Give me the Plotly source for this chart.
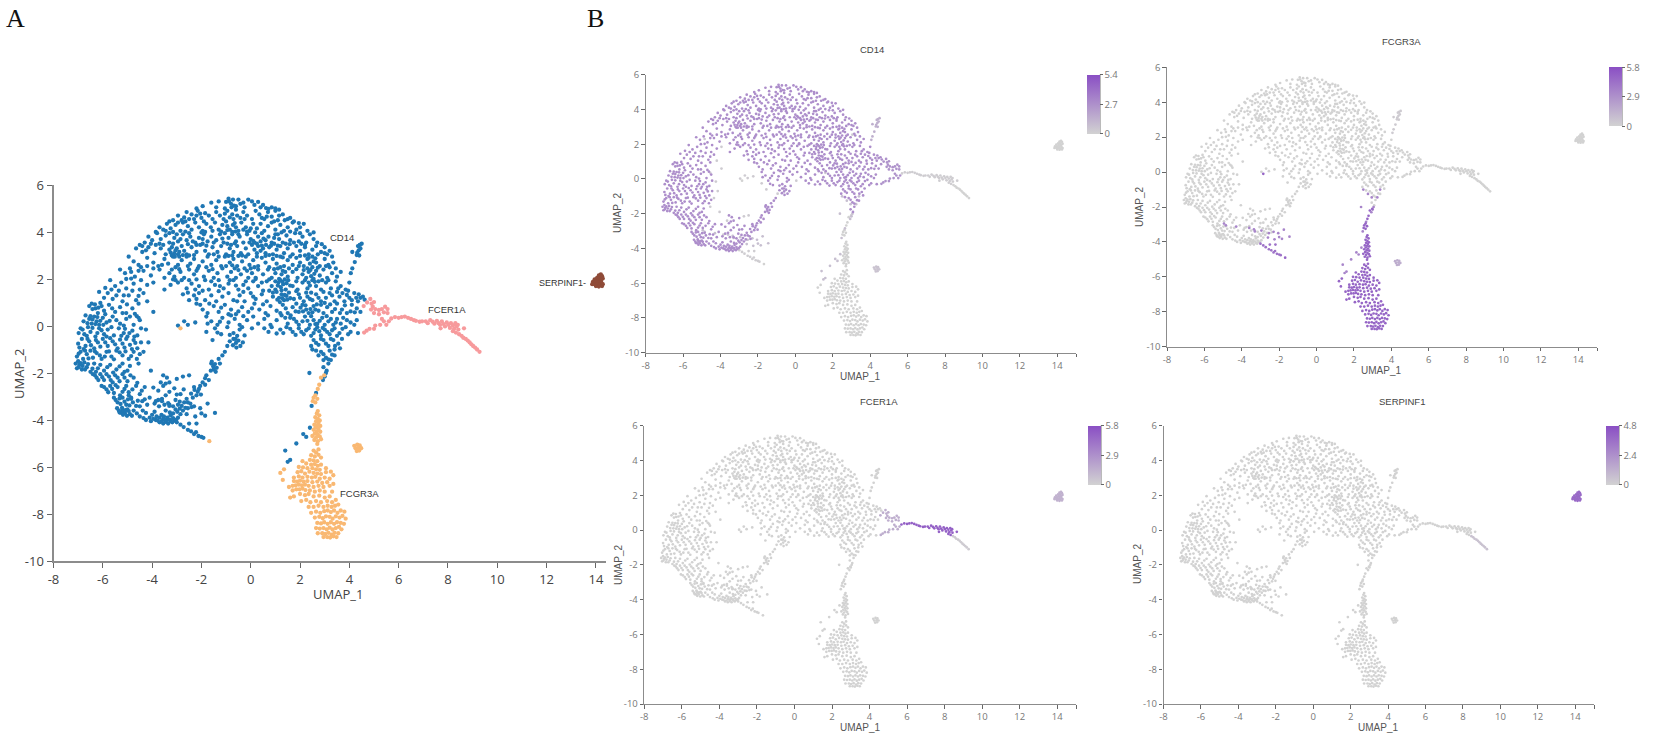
import plotly.graph_objects as go

W = 1654
H = 753

# tick values of the UMAP axes
x_ticks = [-8, -6, -4, -2, 0, 2, 4, 6, 8, 10, 12, 14]
y_ticks = [-10, -8, -6, -4, -2, 0, 2, 4, 6]

cluster_names = ["CD14", "FCGR3A", "FCER1A", "SERPINF1"]
gene_names = ["CD14", "FCGR3A", "FCER1A", "SERPINF1"]
gene_max = [5.4, 5.8, 5.8, 4.8]
gene_mid = [2.7, 2.9, 2.9, 2.4]

# UMAP coordinates, cluster by cluster
# classical monocytes, main cloud, band by band from the top
mono_xy = [
(-1.95,5.1),(-1.6,5.25),(-1.4,5.05),(-1.3,5.3),(-1.05,5.0),(-0.9,5.42),(-0.8,5.2),(-0.72,5.38),(-0.6,5.1),(-0.5,5.38),(-0.42,5.2),(-0.1,5.38),(0.05,5.3),(0.15,5.15),(0.5,5.15),(0.62,5.02),(0.85,5.05),(1.0,5.0),(-2.2,5.0),(-0.25,5.05),
(-3.15,4.5),(-2.95,4.7),(-2.7,4.62),(-2.6,4.85),(-2.4,4.75),(-2.15,4.9),(-2.0,4.6),(-1.85,4.8),(-1.55,4.55),(-1.4,4.85),(-1.25,4.7),(-1.1,4.55),(-0.95,4.9),(-0.75,4.75),(-0.6,4.95),(-0.42,4.6),(-0.3,4.85),(-0.15,4.7),(0.05,4.55),(0.2,4.9),(0.35,4.75),(0.55,4.55),(0.7,4.85),(0.85,4.65),(1.0,4.9),(1.15,4.7),(1.3,4.75),(1.5,4.55),(1.6,4.6),(-3.3,4.45),(-2.3,4.55),(-1.7,4.7),
(-3.85,4.0),(-3.7,4.2),(-3.55,4.1),(-3.4,4.35),(-3.25,4.15),(-3.05,4.3),(-2.85,4.05),(-2.75,4.4),(-2.55,4.25),(-2.4,4.1),(-2.25,4.4),(-2.1,4.2),(-1.95,4.05),(-1.8,4.35),(-1.62,4.2),(-1.45,4.4),(-1.3,4.1),(-1.15,4.3),(-1.0,4.45),(-0.85,4.1),(-0.72,4.3),(-0.6,4.2),(-0.5,4.05),(-0.38,4.4),(-0.2,4.2),(-0.05,4.05),(0.1,4.35),(0.25,4.15),(0.4,4.35),(0.55,4.05),(0.7,4.25),(0.85,4.4),(1.0,4.1),(1.2,4.3),(1.35,4.05),(1.5,4.2),(1.7,4.4),(1.85,4.1),(2.0,4.2),(2.15,4.35),(2.3,4.05),(-0.95,4.25),(-0.65,4.38),(-1.55,4.05),(-2.95,4.4),(1.95,4.38),
(-4.3,3.55),(-4.15,3.8),(-4.0,3.65),(-3.8,3.95),(-3.65,3.7),(-3.45,3.85),(-3.3,3.55),(-3.1,3.75),(-2.95,3.6),(-2.75,3.9),(-2.6,3.65),(-2.45,3.8),(-2.25,3.55),(-2.1,3.75),(-1.9,3.9),(-1.75,3.6),(-1.6,3.8),(-1.4,3.65),(-1.25,3.9),(-1.1,3.55),(-0.9,3.75),(-0.75,3.9),(-0.6,3.6),(-0.45,3.8),(-0.3,3.55),(-0.15,3.9),(0.0,3.7),(0.15,3.55),(0.3,3.8),(0.45,3.95),(0.6,3.65),(0.72,3.8),(0.85,3.55),(1.0,3.9),(1.15,3.7),(1.3,3.55),(1.45,3.85),(1.6,3.65),(1.8,3.95),(1.95,3.6),(2.1,3.8),(2.25,3.55),(2.4,3.9),(2.55,3.7),(2.7,3.55),(0.52,3.72),(0.4,3.6),(-1.95,3.7),(-2.85,3.7),(-1.15,3.72),
(-4.65,3.3),(-4.5,3.45),(-4.4,3.15),(-4.15,3.35),(-3.9,3.1),(-3.65,3.3),(-3.45,3.05),(-3.3,3.25),(-3.2,3.35),(-3.1,3.1),(-3.0,3.3),(-2.9,3.15),(-2.8,3.4),(-2.7,3.2),(-2.6,3.05),(-2.4,3.35),(-2.2,3.15),(-2.05,3.45),(-1.85,3.2),(-1.7,3.05),(-1.55,3.35),(-1.35,3.15),(-1.2,3.4),(-1.0,3.05),(-0.85,3.3),(-0.7,3.15),(-0.55,3.4),(-0.4,3.1),(-0.2,3.3),(-0.1,3.05),(0.05,3.45),(0.15,3.25),(0.3,3.4),(0.4,3.2),(0.5,3.3),(0.6,3.1),(0.75,3.35),(0.9,3.05),(1.05,3.25),(1.2,3.4),(1.35,3.1),(1.5,3.3),(1.7,3.05),(1.85,3.4),(2.0,3.2),(2.2,3.35),(2.35,3.05),(2.5,3.25),(2.65,3.4),(2.85,3.15),(3.0,3.35),(3.1,3.05),(-3.05,3.22),(-2.95,3.05),(-3.25,3.12),(0.25,3.1),(0.45,3.42),
(-4.95,2.95),(-4.75,2.75),(-4.55,2.6),(-4.2,2.9),(-3.95,2.7),(-3.75,2.55),(-3.5,2.85),(-3.35,2.65),(-3.15,2.95),(-2.95,2.6),(-2.8,2.8),(-2.6,2.95),(-2.45,2.65),(-2.3,2.85),(-2.1,2.55),(-1.95,2.75),(-1.75,2.95),(-1.6,2.6),(-1.4,2.8),(-1.2,2.55),(-1.05,2.95),(-0.85,2.7),(-0.7,2.85),(-0.55,2.55),(-0.35,2.75),(-0.2,2.95),(-0.05,2.6),(0.1,2.8),(0.3,2.55),(0.45,2.9),(0.6,2.7),(0.75,2.5),(0.9,2.85),(1.05,2.65),(1.2,2.95),(1.35,2.55),(1.5,2.8),(1.7,2.6),(1.85,2.9),(2.0,2.7),(2.15,2.55),(2.3,2.85),(2.4,2.65),(2.5,2.95),(2.65,2.7),(2.8,2.55),(3.0,2.85),(3.15,2.6),(3.35,2.7),(-3.05,2.5),(0.25,2.95),
(-5.3,2.4),(-5.1,2.25),(-4.9,2.45),(-4.7,2.1),(-4.35,2.35),(-4.05,2.15),(-3.7,2.4),(-3.5,2.05),(-3.3,2.25),(-3.1,2.1),(-2.85,2.3),(-2.7,2.05),(-2.5,2.4),(-2.3,2.2),(-2.15,2.45),(-1.9,2.1),(-1.7,2.35),(-1.5,2.05),(-1.35,2.25),(-1.15,2.45),(-0.95,2.1),(-0.8,2.3),(-0.6,2.05),(-0.4,2.2),(-0.25,2.45),(-0.1,2.05),(0.05,2.25),(0.2,2.05),(0.3,2.4),(0.5,2.2),(0.7,2.4),(0.85,2.05),(1.0,2.25),(1.15,2.0),(1.3,2.35),(1.5,2.1),(1.7,2.3),(1.9,2.05),(2.1,2.2),(2.25,2.05),(2.35,2.3),(2.45,2.12),(2.55,2.0),(2.65,2.35),(2.8,2.15),(2.95,2.4),(3.1,2.05),(3.3,2.25),(3.5,2.1),(3.65,2.3),(-0.5,2.38),
(-5.7,1.95),(-5.5,1.7),(-5.25,1.85),(-5.05,1.6),(-4.75,1.8),(-4.5,1.55),(-3.5,1.55),(-3.25,1.75),(-3.05,1.95),(-2.8,1.95),(-2.6,1.6),(-2.4,1.8),(-2.25,1.55),(-2.1,1.7),(-1.85,1.95),(-1.7,1.55),(-1.45,1.75),(-1.3,1.95),(-1.1,1.6),(-0.9,1.8),(-0.7,1.95),(-0.5,1.55),(-0.3,1.75),(-0.1,1.6),(0.1,1.9),(0.3,1.7),(0.5,1.5),(0.65,1.9),(0.85,1.7),(1.0,1.55),(1.12,1.85),(1.22,1.65),(1.32,1.78),(1.42,1.55),(1.52,1.95),(1.7,1.7),(1.9,1.55),(2.1,1.85),(2.3,1.6),(2.5,1.95),(2.65,1.7),(2.85,1.55),(3.05,1.85),(3.25,1.6),(3.45,1.9),(3.65,1.7),(3.85,1.55),(4.0,1.85),(1.25,1.52),(2.75,1.9),
(-6.15,1.45),(-5.95,1.2),(-5.8,1.4),(-5.6,1.15),(-5.45,1.3),(-5.2,1.05),(-4.95,1.3),(-4.65,1.1),(-4.35,1.4),(-2.75,1.35),(-2.5,1.1),(-2.3,1.3),(-2.1,1.4),(-1.85,1.1),(-1.6,1.3),(-1.4,1.05),(-1.15,1.25),(-0.9,1.4),(-0.7,1.1),(-0.45,1.3),(-0.25,1.05),(0.0,1.4),(0.2,1.15),(0.45,1.35),(0.65,1.05),(0.9,1.25),(1.05,1.45),(1.15,1.2),(1.25,1.35),(1.35,1.1),(1.45,1.28),(1.55,1.42),(1.75,1.15),(1.95,1.35),(2.15,1.05),(2.3,1.25),(2.5,1.1),(2.65,1.35),(2.85,1.05),(3.05,1.2),(3.2,1.4),(3.4,1.05),(3.6,1.25),(3.8,1.05),(4.0,1.2),(4.2,1.4),(4.35,1.05),(4.55,1.25),(4.45,1.2),(2.45,1.42),
(-6.45,0.95),(-6.3,0.75),(-6.2,0.55),(-6.05,0.85),(-5.95,0.65),(-5.75,0.9),(-5.5,0.6),(-5.3,0.8),(-5.05,0.55),(-4.8,0.75),(-4.55,0.95),(-2.2,0.95),(-1.95,0.7),(-1.75,0.55),(-1.5,0.85),(-1.3,0.6),(-1.05,0.9),(-0.8,0.7),(-0.6,0.5),(-0.35,0.8),(-0.1,0.6),(0.15,0.95),(0.35,0.7),(0.6,0.55),(0.8,0.85),(1.05,0.65),(1.3,0.9),(1.5,0.55),(1.7,0.8),(1.95,0.6),(2.1,0.9),(2.25,0.7),(2.35,0.55),(2.55,0.85),(2.75,0.65),(2.95,0.55),(3.1,0.8),(3.3,0.6),(3.5,0.95),(3.7,0.7),(3.9,0.55),(4.1,0.9),(4.3,0.75),(4.45,0.6),(2.85,0.9),
(-6.7,0.45),(-6.55,0.3),(-6.45,0.1),(-6.35,0.4),(-6.25,0.2),(-6.15,0.05),(-6.0,0.35),(-5.85,0.15),(-5.6,0.4),(-5.3,0.1),(-5.05,0.3),(-4.75,0.05),(-4.5,0.25),(-1.8,0.4),(-1.6,0.2),(-1.35,0.05),(-1.15,0.35),(-0.9,0.15),(-0.65,0.3),(-0.45,0.05),(-0.15,0.25),(0.1,0.4),(0.3,0.1),(0.55,0.3),(0.8,0.05),(1.05,0.25),(1.25,0.45),(1.5,0.1),(1.75,0.3),(1.95,0.05),(2.1,0.2),(2.2,0.4),(2.4,0.05),(2.55,0.25),(2.7,0.1),(2.9,0.35),(3.0,0.05),(3.15,0.2),(3.35,0.05),(3.5,0.3),(3.65,0.1),(3.9,0.25),(4.2,0.05),
(-6.9,-0.1),(-6.75,-0.35),(-6.6,-0.05),(-6.5,-0.25),(-6.3,-0.45),(-6.15,-0.1),(-5.95,-0.35),(-5.8,-0.15),(-5.55,-0.4),(-5.35,-0.1),(-5.15,-0.3),(-5.0,-0.45),(-4.8,-0.2),(-4.6,-0.4),(-4.45,-0.1),(-1.45,-0.1),(-1.2,-0.35),(-0.95,-0.05),(-0.7,-0.3),(-0.45,-0.15),(-0.25,-0.4),(0.55,-0.1),(0.85,-0.05),(1.2,-0.15),(1.45,-0.05),(1.7,-0.25),(1.95,-0.1),(2.15,-0.35),(2.35,-0.1),(2.55,-0.3),(2.7,-0.05),(2.85,-0.4),(3.0,-0.15),(3.2,-0.35),(3.4,-0.1),(3.6,-0.3),(3.85,-0.05),(4.05,-0.25),(4.35,-0.3),
(-7.0,-0.75),(-6.85,-0.55),(-6.7,-0.85),(-6.55,-0.65),(-6.35,-0.95),(-6.2,-0.7),(-6.0,-0.55),(-5.8,-0.85),(-5.6,-0.65),(-5.4,-0.95),(-5.2,-0.75),(-5.05,-0.55),(-4.9,-0.8),(-4.75,-0.6),(-4.6,-0.95),(-4.45,-0.7),(-0.7,-0.55),(-0.6,-0.72),(-0.5,-0.62),(-0.72,-0.82),(-0.42,-0.85),(-0.58,-0.92),(2.55,-0.6),(2.75,-0.8),(2.95,-0.6),(3.15,-0.85),(3.35,-0.6),(3.55,-0.75),(3.7,-0.55),
(-7.05,-1.3),(-6.9,-1.1),(-6.8,-1.4),(-6.65,-1.2),(-6.5,-1.05),(-6.4,-1.35),(-6.25,-1.15),(-6.05,-1.4),(-5.85,-1.1),(-5.65,-1.3),(-5.45,-1.05),(-5.2,-1.25),(-4.95,-1.4),(-4.75,-1.1),(-4.5,-1.2),(-1.05,-1.1),(-1.3,-1.4),(2.85,-1.1),(3.05,-1.35),(3.2,-1.05),(3.4,-1.25),(2.65,-1.05),
(-7.1,-1.6),(-7.05,-1.8),(-6.95,-1.65),(-6.85,-1.85),(-6.75,-1.55),(-6.65,-1.75),(-6.5,-1.95),(-6.35,-1.6),(-6.2,-1.8),(-5.95,-1.9),(-5.7,-1.65),(-5.45,-1.85),(-5.2,-1.6),(-5.0,-1.9),(-1.6,-1.6),(-1.52,-1.72),(-1.45,-1.62),(-1.5,-1.85),(-1.38,-1.78),(-1.25,-1.6),(-1.62,-1.9),(2.95,-1.75),(3.08,-1.9),(3.15,-1.6),
(-6.4,-2.05),(-6.25,-2.2),(-6.1,-2.05),(-5.95,-2.3),(-5.75,-2.15),(-5.6,-2.4),(-5.4,-2.2),(-5.2,-2.05),(-5.0,-2.35),(-4.75,-2.2),(-3.55,-2.1),(-3.3,-2.4),(-1.8,-2.1),(-1.95,-2.4),(-1.7,-2.3),(-3.0,-2.25),(-3.4,-2.2),
(-6.05,-2.55),(-5.85,-2.7),(-5.7,-2.55),(-5.55,-2.85),(-5.4,-2.6),(-5.2,-2.8),(-5.05,-2.55),(-4.8,-2.7),(-4.5,-2.9),(-4.3,-2.6),(-3.75,-2.75),(-3.55,-2.55),(-3.3,-2.8),(-3.1,-2.65),(-2.85,-2.9),(-2.3,-2.6),(-2.15,-2.8),(-2.05,-2.55),(-2.2,-2.95),
(-5.55,-3.05),(-5.4,-3.25),(-5.2,-3.05),(-5.05,-3.35),(-4.85,-3.1),(-4.65,-3.4),(-4.4,-3.2),(-4.1,-3.05),(-3.9,-3.3),(-3.6,-3.1),(-3.3,-3.35),(-3.05,-3.15),(-2.8,-3.4),(-2.6,-3.1),(-2.45,-3.3),(-2.35,-3.05),(-2.7,-3.25),
(-5.35,-3.6),(-5.2,-3.55),(-5.1,-3.7),(-5.0,-3.55),(-4.9,-3.75),(-4.75,-3.6),(-4.5,-3.85),(-4.25,-3.7),(-4.1,-3.9),(-3.9,-3.65),(-3.7,-3.9),(-3.45,-3.6),(-3.25,-3.8),(-3.05,-3.55),(-2.85,-3.75),(-2.95,-3.9),(-5.25,-3.7),(-5.15,-3.62),(-3.55,-3.95),(-3.15,-3.92),
(-4.25,-4.0),(-4.05,-4.05),(-3.85,-4.0),(-3.7,-4.1),(-3.55,-4.15),(-3.45,-4.08),(-3.35,-4.15),(-3.25,-4.05),(-3.1,-4.02),(-3.4,-4.0),
]

# second pass over the same cloud, the short chains and clumps between the points above
mono_chain_xy = [
(-1.0,5.28),(-0.88,5.3),(-0.78,5.05),(-0.68,5.12),(-0.3,5.25),(0.3,5.28),(0.4,5.05),(0.72,4.98),(1.15,4.95),
(-2.8,4.5),(-2.65,4.45),(-2.5,4.55),(-2.2,4.7),(-2.05,4.78),(-1.9,4.45),(-1.05,4.78),(-0.85,4.62),(-0.7,4.55),(-0.55,4.7),(-0.25,4.55),(0.45,4.6),(0.65,4.65),(0.95,4.45),(1.1,4.5),(1.38,4.5),(1.75,4.45),
(-3.45,4.05),(-3.3,3.95),(-3.15,4.0),(-3.0,3.9),(-2.65,4.02),(-2.5,3.95),(-2.0,3.98),(-1.85,4.0),(-1.2,4.02),(-1.05,3.95),(-0.95,4.08),(-0.75,4.0),(-0.62,4.02),(-0.5,3.9),(-0.3,4.1),(-0.15,4.02),(0.0,4.15),(0.18,3.98),(0.95,3.75),(1.1,3.9),(1.25,3.98),(1.6,4.02),(2.55,3.98),(2.0,3.95),
(-4.4,3.4),(-4.25,3.22),(-4.05,3.5),(-3.85,3.45),(-3.7,3.5),(-3.55,3.45),(-3.15,3.5),(-2.55,3.48),(-2.35,3.6),(-2.2,3.45),(-1.95,3.5),(-1.8,3.42),(-1.5,3.55),(-0.95,3.5),(-0.8,3.45),(-0.65,3.52),(-0.05,3.55),(0.1,3.62),(0.25,3.5),(0.62,3.45),(0.82,3.42),(0.95,3.5),(1.1,3.42),(1.42,3.5),(1.75,3.55),(1.58,3.48),(2.05,3.5),(2.2,3.45),(2.88,3.48),(3.0,3.1),
(-3.2,3.0),(-3.08,2.95),(-2.9,2.95),(-2.75,3.02),(-2.5,3.0),(-2.3,3.02),(-1.5,3.05),(-1.3,2.95),(-0.9,2.98),(-0.75,3.0),(-0.5,2.98),(-0.35,3.0),(0.6,2.98),(0.75,3.02),(1.05,2.98),(1.3,2.92),(1.6,2.95),(2.0,2.98),(2.2,3.0),(2.35,2.9),(2.55,2.75),(2.62,2.88),(2.72,3.05),(3.2,3.2),(3.3,2.95),
(-4.55,2.35),(-4.45,2.5),(-4.2,2.55),(-3.95,2.45),(-3.6,2.6),(-3.2,2.4),(-2.9,2.42),(-2.55,2.55),(-2.2,2.35),(-1.8,2.5),(-1.55,2.42),(-1.0,2.55),(-0.75,2.58),(-0.65,2.45),(-0.15,2.35),(0.0,2.45),(0.15,2.5),(0.95,2.42),(1.1,2.45),(1.2,2.5),(1.25,2.2),(1.4,2.3),(1.55,2.45),(1.85,2.42),(1.95,2.55),(2.15,2.38),(2.3,2.45),(2.5,2.5),(2.42,2.38),(2.58,2.22),(2.72,2.48),(3.2,2.5),(3.45,2.45),
(-5.05,2.0),(-4.85,2.02),(-4.45,1.95),(-4.2,1.75),(-3.15,1.98),(-2.95,1.85),(-2.5,1.95),(-2.2,1.98),(-1.6,1.9),(-1.25,1.7),(-0.85,1.95),(-0.6,1.72),(-0.2,1.9),(0.2,2.0),(0.45,1.85),(0.75,1.98),(1.0,1.9),(1.1,1.72),(1.2,1.95),(1.28,1.88),(1.38,1.98),(1.45,1.82),(1.6,1.72),(1.85,1.9),(2.2,1.95),(2.35,1.85),(2.4,1.72),(2.6,1.88),(2.9,1.95),(3.15,1.95),(3.55,1.6),(3.95,1.5),
(-5.9,1.62),(-5.65,1.55),(-5.35,1.5),(-5.15,1.3),(-4.8,1.5),(-4.55,1.28),(-2.55,1.42),(-2.2,1.15),(-1.95,1.5),(-1.3,1.48),(-0.55,1.05),(-0.3,1.45),(0.1,1.25),(0.75,1.5),(0.9,1.42),(1.08,1.12),(1.18,1.02),(1.28,1.18),(1.38,1.32),(1.48,1.12),(1.6,1.18),(1.85,1.48),(2.0,1.2),(2.25,1.42),(2.4,1.15),(2.75,1.2),(2.95,1.45),(3.3,1.3),(3.5,1.45),(3.72,1.4),(3.9,1.32),(4.1,1.1),(4.28,1.2),(4.38,1.35),(4.62,1.12),
(-6.55,0.85),(-6.42,0.72),(-6.32,0.92),(-6.18,0.78),(-6.1,0.98),(-5.9,0.5),(-5.62,0.75),(-5.2,0.55),(-5.02,0.92),(-4.7,0.52),(-2.05,0.9),(-1.68,0.95),(-1.2,0.78),(-0.9,0.5),(-0.5,0.62),(0.05,0.75),(0.5,0.92),(1.2,0.55),(1.42,0.75),(1.85,0.95),(1.82,0.62),(2.02,0.78),(2.12,0.62),(2.22,0.88),(2.42,0.72),(2.5,0.58),(2.62,0.7),(2.68,0.92),(3.0,0.98),(3.22,0.92),(3.42,0.72),(3.62,0.55),(3.82,0.88),(4.05,0.62),(4.22,0.58),
(-6.78,0.2),(-6.62,0.12),(-6.5,0.42),(-6.42,0.28),(-6.3,0.08),(-6.22,0.38),(-6.1,0.22),(-5.98,0.05),(-5.72,0.22),(-5.45,0.25),(-5.15,0.02),(-4.9,0.4),(-4.62,0.42),(-1.75,0.1),(-1.25,0.18),(-0.8,0.45),(-0.3,0.42),(0.7,0.45),(1.4,0.35),(1.62,0.45),(1.85,0.18),(2.3,0.22),(2.45,0.42),(2.62,0.08),(2.8,0.22),(3.08,0.42),(3.25,0.3),(3.45,0.15),(3.75,0.35),(4.05,0.15),(4.3,0.25),
(-6.98,-0.3),(-6.82,-0.15),(-6.65,-0.42),(-6.42,-0.08),(-6.22,-0.3),(-6.05,-0.18),(-5.85,-0.45),(-5.65,-0.05),(-5.25,-0.42),(-5.1,-0.12),(-4.92,-0.3),(-4.72,-0.45),(-1.35,-0.28),(-0.85,-0.38),(-0.55,-0.42),(-0.35,-0.05),(0.72,-0.25),(1.05,-0.32),(1.32,-0.3),(1.6,-0.12),(1.82,-0.38),(2.05,-0.25),(2.25,-0.18),(2.45,-0.42),(2.62,-0.15),(2.78,-0.22),(2.92,-0.08),(3.1,-0.25),(3.3,-0.18),(3.5,-0.42),(3.72,-0.12),(3.95,-0.35),
(-6.95,-0.92),(-6.78,-0.98),(-6.62,-0.55),(-6.48,-0.82),(-6.28,-0.6),(-6.1,-0.88),(-5.9,-0.7),(-5.7,-0.52),(-5.5,-0.78),(-5.3,-0.58),(-5.12,-0.92),(-4.82,-0.98),(-4.68,-0.72),(-0.85,-0.65),(-0.62,-0.55),(-0.32,-0.7),(2.65,-0.72),(2.85,-0.55),(3.05,-0.75),(3.25,-0.55),(3.42,-0.85),(3.62,-0.95),(2.45,-0.85),
(-6.98,-1.18),(-6.72,-1.05),(-6.58,-1.38),(-6.32,-1.08),(-6.12,-1.25),(-5.92,-1.3),(-5.75,-1.08),(-5.55,-1.42),(-5.32,-1.12),(-5.08,-1.08),(-4.85,-1.28),(-4.62,-1.4),(-1.15,-1.25),(2.95,-1.2),(3.15,-1.42),(3.3,-1.22),
(-7.0,-1.5),(-6.98,-1.75),(-6.9,-1.58),(-6.82,-1.7),(-6.72,-1.85),(-6.6,-1.62),(-6.42,-1.82),(-6.28,-1.95),(-6.1,-1.65),(-5.82,-1.75),(-5.58,-1.98),(-5.32,-1.72),(-5.12,-1.95),(-4.9,-1.7),(-1.58,-1.52),(-1.42,-1.95),
(-6.32,-2.1),(-6.18,-2.3),(-6.02,-2.18),(-5.85,-2.05),(-5.68,-2.3),(-5.5,-2.1),(-5.32,-2.35),(-5.12,-2.2),(-4.88,-2.1),(-4.6,-2.42),(-3.45,-2.45),(-1.85,-2.22),(-1.85,-2.5),
(-5.95,-2.6),(-5.78,-2.82),(-5.62,-2.68),(-5.48,-2.52),(-5.3,-2.95),(-5.12,-2.68),(-4.95,-2.82),(-4.65,-2.55),(-4.42,-2.75),(-3.95,-2.62),(-3.45,-2.95),(-3.0,-2.92),(-2.72,-2.7),(-2.42,-2.88),(-2.28,-2.72),(-2.1,-2.68),(-2.02,-2.92),
(-5.48,-3.15),(-5.32,-3.08),(-5.28,-3.32),(-5.12,-3.22),(-4.98,-3.12),(-4.92,-3.38),(-4.78,-3.25),(-4.58,-3.18),(-4.5,-3.42),(-4.2,-3.35),(-3.75,-3.15),(-3.72,-3.42),(-3.5,-3.35),(-3.15,-3.42),(-2.88,-3.22),(-2.55,-3.25),(-2.4,-3.45),(-2.65,-3.48),
(-5.42,-3.5),(-5.32,-3.68),(-5.22,-3.48),(-5.18,-3.78),(-5.08,-3.58),(-5.02,-3.82),(-4.95,-3.62),(-4.82,-3.82),(-4.62,-3.72),(-4.38,-3.6),(-4.35,-3.92),(-4.0,-3.78),(-3.82,-3.85),(-3.62,-3.78),(-3.52,-3.85),(-3.38,-3.9),(-3.28,-3.68),(-3.15,-3.72),(-2.98,-3.65),(-2.75,-3.6),(-2.88,-3.52),
(-3.95,-3.95),(-3.78,-4.02),(-3.62,-4.05),(-3.5,-3.98),(-3.28,-3.98),(-3.18,-4.1),(-3.02,-3.98),
]

# cells of the cloud that look grey in the CD14 panel
mono_low_xy = [
(-4.85,2.3),(-3.95,1.85),(-4.2,1.05),(-3.95,0.6),(-4.25,-0.15),(-4.15,-0.7),(-4.55,-1.6),(-4.05,-1.9),(-3.65,-2.4),(-2.75,-2.15),(-3.85,-3.2),(-2.5,-2.1),
(-2.95,0.02),(-2.7,0.2),(-2.55,0.05),(-2.25,0.15),(-1.8,-0.25),(-1.55,-0.6),(-0.95,-0.85),(0.05,-0.1),(1.6,0.35),(3.05,2.55),(-4.55,0.35),(-4.35,-1.1),
]

# CD16 positive stretch between the classical cloud and the stem
mono_cd16_xy = [
(-4.95,-2.95),(-4.85,-3.05),(-4.3,-3.12),(-3.6,-3.2),(-3.35,-3.28),(-3.3,-3.4),(-2.95,-3.35),(-2.55,-3.5),(-2.3,-3.42),(-2.05,-3.5),(-2.0,-3.72),(-1.85,-3.82),(-1.75,-3.3),(-1.45,-3.7),(-2.6,-3.75),(-2.25,-3.85),
(2.5,-1.0),(2.75,-1.25),(2.95,-1.45),(3.25,-1.45),(3.4,-1.0),(3.05,-2.0),(3.0,-2.15),(2.93,-2.3),(2.65,-2.85),(2.47,-3.4),(2.4,-4.33),(2.13,-4.6),(2.25,-4.72),(1.85,-5.0),(1.4,-5.3),(1.6,-5.7),(1.5,-5.78),(2.38,-2.0),
]

# thin tail below the monocyte arc
mono_tail_xy = [
(-3.0,-4.1),(-2.85,-4.2),(-2.72,-4.3),(-2.55,-4.42),(-2.42,-4.48),(-2.3,-4.6),(-2.22,-4.52),(-2.12,-4.68),(-2.0,-4.72),(-1.92,-4.76),(-2.5,-4.15),(-2.2,-4.15),
]

# small arm above the FCER1A branch
arm_xy = [
(4.5,3.5),(4.42,3.45),(4.35,3.4),(4.45,3.3),(4.38,3.22),(4.32,3.12),(4.3,3.02),(4.12,3.15),(4.22,2.72),(4.12,2.45),(4.06,2.25),(4.4,3.0),
]

fcgr3a_xy = [
# stem
(2.98,-2.1),(2.85,-2.2),(2.78,-2.5),(2.72,-2.68),(2.62,-2.95),(2.55,-3.05),(2.7,-3.1),(2.62,-3.25),(2.52,-3.2),
(2.72,-3.62),(2.68,-3.72),(2.78,-3.8),(2.62,-3.88),(2.72,-3.95),(2.8,-4.02),(2.65,-4.05),(2.75,-4.12),(2.58,-4.2),(2.7,-4.22),(2.82,-4.25),(2.63,-4.32),(2.75,-4.38),(2.55,-4.42),(2.68,-4.48),(2.82,-4.5),(2.6,-4.58),(2.72,-4.62),(2.5,-4.68),(2.65,-4.74),(2.8,-4.7),(2.58,-4.85),(2.72,-4.9),(2.85,-4.82),(2.7,-5.02),
(2.55,-5.3),(2.65,-5.38),(2.75,-5.25),(2.45,-5.5),(2.6,-5.55),(2.75,-5.48),(2.85,-5.6),
# main body
(2.1,-5.75),(2.25,-5.85),(2.4,-5.7),(2.55,-5.72),(2.7,-5.75),(2.45,-5.9),(2.6,-5.88),(2.72,-5.95),(2.85,-5.9),(1.95,-6.0),(2.12,-6.02),(2.3,-6.05),(2.5,-6.05),(2.65,-6.1),(2.8,-6.12),(3.05,-6.05),
(1.2,-6.25),(1.35,-6.1),(1.9,-6.22),(2.05,-6.18),(2.2,-6.28),(2.38,-6.2),(2.55,-6.25),(2.7,-6.28),(2.85,-6.3),(3.05,-6.22),(3.25,-6.2),(1.3,-6.55),(1.75,-6.45),(1.95,-6.4),(2.1,-6.45),(2.3,-6.42),(2.48,-6.45),(2.62,-6.42),(2.8,-6.5),(3.0,-6.45),(3.2,-6.5),(3.35,-6.35),
(1.75,-6.6),(1.88,-6.62),(2.0,-6.58),(2.15,-6.62),(2.3,-6.6),(2.5,-6.65),(2.7,-6.62),(2.9,-6.68),(3.1,-6.65),(1.55,-6.85),(1.7,-6.8),(1.82,-6.78),(1.95,-6.75),(2.08,-6.78),(2.2,-6.75),(2.35,-6.8),(2.55,-6.85),(2.75,-6.8),(2.95,-6.85),(3.2,-6.8),(3.35,-6.72),
(1.7,-7.0),(1.85,-6.95),(1.98,-6.95),(2.1,-6.92),(2.22,-6.98),(2.4,-7.0),(2.6,-7.05),(2.8,-7.0),(3.0,-7.05),(3.3,-7.05),(1.6,-7.3),(1.75,-7.25),(2.0,-7.15),(2.2,-7.2),(2.35,-7.15),(2.55,-7.25),(2.78,-7.22),(3.0,-7.3),(3.2,-7.25),
(2.05,-7.45),(2.25,-7.4),(2.42,-7.5),(2.65,-7.45),(2.85,-7.5),(3.1,-7.45),(3.3,-7.5),(3.45,-7.4),(2.35,-7.7),(2.55,-7.7),(2.75,-7.65),(2.95,-7.7),(3.12,-7.65),(3.28,-7.7),(3.42,-7.65),(3.55,-7.6),
(2.45,-7.95),(2.65,-7.9),(2.82,-7.95),(2.98,-7.88),(3.12,-7.85),(3.25,-7.92),(3.38,-7.85),(3.52,-7.95),(3.65,-7.85),(3.8,-7.9),(2.6,-8.15),(2.78,-8.12),(2.92,-8.18),(3.05,-8.1),(3.2,-8.12),(3.32,-8.2),(3.45,-8.1),(3.6,-8.15),(3.72,-8.08),(3.85,-8.2),
(2.7,-8.38),(2.85,-8.4),(2.98,-8.35),(3.12,-8.42),(3.25,-8.35),(3.38,-8.42),(3.5,-8.35),(3.65,-8.38),(3.78,-8.42),(2.65,-8.6),(2.8,-8.62),(2.95,-8.6),(3.08,-8.65),(3.2,-8.58),(3.32,-8.66),(3.45,-8.6),(3.58,-8.55),(3.68,-8.65),
(2.72,-8.82),(2.9,-8.82),(3.02,-8.85),(3.15,-8.8),(3.28,-8.88),(3.4,-8.8),(3.55,-8.82),(2.95,-8.98),(3.1,-8.98),(3.22,-9.0),(3.35,-8.95),(3.48,-8.98),
# strays
(-2.85,-0.1),(-1.68,-4.9),
]

fcgr3a_sat_xy = [
(4.2,-5.1),(4.32,-5.05),(4.42,-5.08),(4.25,-5.2),(4.38,-5.18),(4.48,-5.2),(4.3,-5.32),(4.4,-5.3),
]

# FCER1A branch close to the monocytes, lighter in that gene
dc_branch_xy = [
(4.85,1.15),(4.72,1.0),(4.9,0.95),(5.0,1.02),(4.58,0.85),(4.95,0.82),(5.05,0.72),(4.88,0.7),(5.2,0.68),(5.32,0.72),(5.45,0.82),(5.55,0.72),(5.0,0.55),(5.2,0.5),(5.4,0.58),(5.55,0.55),
(5.6,0.2),(5.4,0.2),(5.5,0.05),(5.25,0.05),(5.05,0.02),(5.0,-0.12),(4.82,-0.12),(4.7,-0.2),(4.6,-0.28),(5.32,0.3),
]

dc_arc_xy = [
(5.7,0.32),(5.85,0.38),(6.0,0.35),(6.12,0.38),(6.25,0.4),(6.38,0.35),(6.5,0.3),(6.62,0.25),(6.7,0.22),(6.85,0.18),(6.95,0.2),(7.1,0.2),(7.18,0.12),(7.28,0.25),(7.38,0.18),(7.45,0.1),(7.55,0.22),(7.62,0.12),(7.68,0.05),(7.75,0.2),(7.82,0.08),(7.88,-0.02),(7.95,0.15),(8.02,0.05),(8.08,-0.08),(8.12,0.12),(8.2,0.02),(8.25,-0.12),(8.3,0.12),(8.35,-0.02),(8.42,-0.15),(8.4,0.05),(8.2,-0.22),(8.32,-0.28),(8.65,-0.1),(7.7,-0.1),
]

dc_tip_xy = [
(8.45,-0.35),(8.55,-0.42),(8.62,-0.5),(8.72,-0.55),(8.8,-0.62),(8.88,-0.7),(8.95,-0.78),(9.02,-0.85),(9.1,-0.92),(9.18,-1.0),(9.28,-1.1),
]

serpinf1_xy = [
(14.2,2.2),(14.12,2.15),(14.25,2.12),(14.05,2.05),(14.15,2.05),(14.28,2.02),(13.95,1.98),(14.08,1.95),(14.2,1.95),(13.88,1.88),(14.0,1.88),(14.12,1.85),(14.22,1.85),(13.85,1.78),(13.95,1.78),(14.05,1.78),(14.15,1.75),(14.28,1.78),(14.0,1.7),(14.12,1.68),(14.25,1.7),
]

# expression level of each gene per group of cells
group_points = [mono_xy, mono_chain_xy, mono_low_xy, mono_cd16_xy, mono_tail_xy, arm_xy, fcgr3a_xy, fcgr3a_sat_xy, dc_branch_xy, dc_arc_xy, dc_tip_xy, serpinf1_xy]
cd14_expr = [2.8, 2.8, 0.3, 0.8, 0.2, 1.4, 0.0, 0.6, 2.6, 0.2, 0.0, 0.0]
fcgr3a_expr = [0.0, 0.0, 0.0, 3.4, 4.2, 0.3, 4.8, 1.6, 0.0, 0.0, 0.0, 0.0]
fcer1a_expr = [0.0, 0.0, 0.0, 0.0, 0.0, 0.0, 0.0, 0.0, 1.6, 5.0, 0.3, 1.4]
serpinf1_expr = [0.0, 0.0, 0.0, 0.0, 0.0, 0.0, 0.0, 0.0, 0.0, 0.0, 0.6, 3.8]
all_expr = [cd14_expr, fcgr3a_expr, fcer1a_expr, serpinf1_expr]

# clusters of panel A, groups to join and colour
cluster_groups = [
    [mono_xy, mono_chain_xy, mono_low_xy, mono_cd16_xy, mono_tail_xy, arm_xy],
    [fcgr3a_xy, fcgr3a_sat_xy],
    [dc_branch_xy, dc_arc_xy, dc_tip_xy],
    [serpinf1_xy],
]
cluster_colors = ["#1f77b4", "#f9b872", "#f79a9c", "#8f4b38"]


def px_x(p):
    return p / W


def px_y(p):
    return 1 - p / H


def make_axes(fig, n, left, right, top, bottom, x_max, tick_size, tick_color, line_width, tick_len, end_tick):
    vals = list(x_ticks)
    text = [str(v) for v in x_ticks]
    if end_tick:
        vals.append(15)
        text.append("")
    suffix = "" if n == 1 else str(n)
    x_cfg = dict(
        domain=[px_x(left), px_x(right)], range=[-8, x_max], anchor="y" + suffix,
        tickvals=vals, ticktext=text, ticks="outside", ticklen=tick_len, tickwidth=1,
        tickcolor="#666666", showline=True, linecolor="#8c8c8c", linewidth=line_width,
        showgrid=False, zeroline=False, tickfont=dict(size=tick_size, color=tick_color, family="Open Sans"),
    )
    y_cfg = dict(
        domain=[px_y(bottom), px_y(top)], range=[-10, 6], anchor="x" + suffix,
        tickvals=y_ticks, ticktext=[str(v) for v in y_ticks], ticks="outside", ticklen=tick_len, tickwidth=1,
        tickcolor="#666666", showline=True, linecolor="#8c8c8c", linewidth=line_width,
        showgrid=False, zeroline=False, tickfont=dict(size=tick_size, color=tick_color, family="Open Sans"),
    )
    fig.update_layout({"xaxis" + suffix: x_cfg, "yaxis" + suffix: y_cfg})


def add_text(fig, text, x, y, size, color="#444444", family="Liberation Sans", angle=0, anchor="center"):
    fig.add_annotation(
        text=text, x=px_x(x), y=px_y(y), xref="paper", yref="paper", showarrow=False,
        font=dict(size=size, color=color, family=family), textangle=angle,
        xanchor=anchor, yanchor="middle",
    )


fig = go.Figure()

# panel A
make_axes(fig, 1, 53.5, 606, 185, 561, 14.41, 13, "#444444", 2, 5, False)
for name, groups, color in zip(cluster_names, cluster_groups, cluster_colors):
    pts = [p for g in groups for p in g]
    fig.add_trace(go.Scatter(
        x=[p[0] for p in pts], y=[p[1] for p in pts], mode="markers", name=name,
        marker=dict(size=4.3, color=color), xaxis="x", yaxis="y", showlegend=False,
    ))

# panels B: left, right, top, bottom, colour bar left
panel_box = [
    (645.7, 1076, 74.7, 352.7, 1087),
    (1167, 1597, 67.3, 346.7, 1609),
    (644.3, 1076, 425.7, 704, 1088),
    (1163.5, 1594, 425.7, 704, 1606),
]
for i, gene in enumerate(gene_names):
    n = i + 2
    left, right, top, bottom, bar_x = panel_box[i]
    make_axes(fig, n, left, right, top, bottom, 15, 9.5, "#777777", 1.3, 3.5, True)
    xs, ys, cs = [], [], []
    for pts, level in zip(group_points, all_expr[i]):
        xs += [p[0] for p in pts]
        ys += [p[1] for p in pts]
        cs += [level] * len(pts)
    order = sorted(range(len(cs)), key=lambda k: cs[k])
    fig.add_trace(go.Scatter(
        x=[xs[k] for k in order], y=[ys[k] for k in order], mode="markers", name=gene,
        marker=dict(size=2.7, color=[cs[k] for k in order], coloraxis="coloraxis" + str(i + 1)),
        xaxis="x" + str(n), yaxis="y" + str(n), showlegend=False,
    ))
    fig.update_layout({"coloraxis" + str(i + 1): dict(
        cmin=0, cmax=gene_max[i],
        colorscale=[[0, "#d2d2d2"], [1, "#8a4fc4"]],
        colorbar=dict(
            x=px_x(bar_x), xanchor="left", xpad=0, y=px_y(top), yanchor="top", ypad=0,
            thickness=13, thicknessmode="pixels", len=58.5, lenmode="pixels",
            tickvals=[0, gene_mid[i], gene_max[i]], ticktext=["0", str(gene_mid[i]), str(gene_max[i])],
            ticks="outside", ticklen=3, tickwidth=1, tickcolor="#666666",
            outlinewidth=0, tickfont=dict(size=9.5, color="#777777", family="Open Sans"),
        ),
    )})
    # the colour bar has an axis line on its right side only
    fig.add_shape(
        type="line", xref="paper", yref="paper",
        x0=px_x(bar_x + 13), x1=px_x(bar_x + 13), y0=px_y(top), y1=px_y(top + 58.5),
        line=dict(color="#777777", width=1),
    )

# panel letters
add_text(fig, "A", 15, 19, 26, "#111111", "Liberation Serif")
add_text(fig, "B", 595, 19, 26, "#111111", "Liberation Serif")

# panel A labels
add_text(fig, "CD14", 342, 238, 9.5, "#333333")
add_text(fig, "FCER1A", 447, 309, 9.5, "#333333")
add_text(fig, "FCGR3A", 359, 493, 9.5, "#333333")
add_text(fig, "SERPINF1-", 588, 283, 9, "#333333", anchor="right")
add_text(fig, "UMAP_1", 338, 594, 13, "#444444", "Open Sans")
add_text(fig, "UMAP_2", 19, 374, 13, "#444444", "Open Sans", angle=-90)

# panel B titles and axis names
title_pos = [(872, 50), (1401, 42), (879, 401), (1402, 401)]
x_name_pos = [(860, 376), (1381, 370), (860, 727), (1378, 727)]
y_name_pos = [(618, 213), (1140, 207), (618, 565), (1137, 564)]
for i, gene in enumerate(gene_names):
    add_text(fig, gene, title_pos[i][0], title_pos[i][1], 9.5, "#444444")
    add_text(fig, "UMAP_1", x_name_pos[i][0], x_name_pos[i][1], 10, "#555555")
    add_text(fig, "UMAP_2", y_name_pos[i][0], y_name_pos[i][1], 10, "#555555", angle=-90)

# autoexpand off: the colour bars must not shrink the plot area
fig.update_layout(
    width=W, height=H, autosize=False,
    margin=dict(l=0, r=0, t=0, b=0, autoexpand=False),
    paper_bgcolor="white", plot_bgcolor="white",
    showlegend=False,
)

fig.write_html("out.html", config=dict(displayModeBar=False), post_script="document.body.style.margin='0';")
